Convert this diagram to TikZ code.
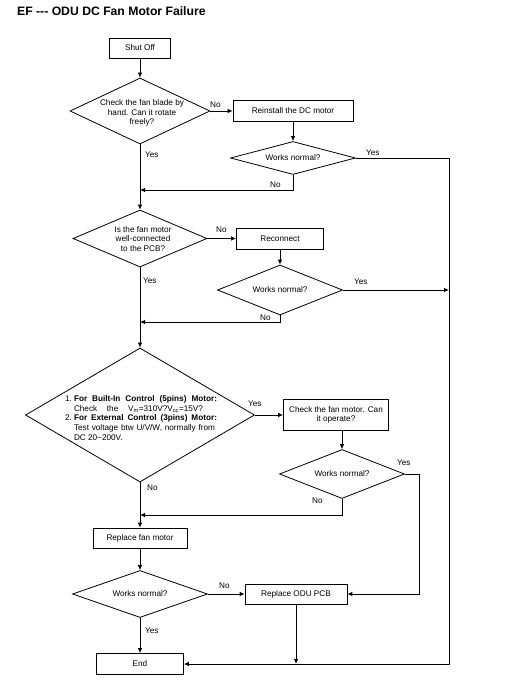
\documentclass[tikz,border=0pt]{standalone}
\usepackage{fontspec}
\setmainfont{Liberation Sans}
\usetikzlibrary{shapes.geometric,arrows.meta}
\begin{document}
\begin{tikzpicture}[x=1pt,y=-1pt,
  font=\fontsize{8.2}{9.6}\selectfont,
  every node/.style={inner sep=0pt},
  box/.style={draw,line width=0.8pt,rectangle,align=center},
  dia/.style={draw,line width=0.8pt,diamond},
  txt/.style={align=center},
  lbl/.style={anchor=base west},
  con/.style={line width=0.8pt},
  arr/.style={line width=0.8pt,-{Latex[length=5pt,width=4.5pt]}}]
\useasboundingbox (0,0) rectangle (515,690);
\node[anchor=base west,font=\fontsize{12.2}{14}\selectfont\bfseries] (title) at (17,16) {EF -{}-{}- ODU DC Fan Motor Failure};
% nodes
\node[box,minimum width=61pt,minimum height=20pt] (shut) at (140,48) {Shut Off};
\node[dia,minimum width=140pt,minimum height=66pt] (d1) at (140,111) {};
\node[txt] (t1) at (142,113) {Check the fan blade by\\hand. Can it rotate\\freely?};
\node[box,minimum width=120pt,minimum height=21pt] (reinst) at (293,111) {Reinstall the DC motor};
\node[dia,minimum width=125pt,minimum height=33pt] (d2) at (293,158) {};
\node[txt] (t2) at (293,158) {Works normal?};
\node[dia,minimum width=134pt,minimum height=57pt] (d3) at (140,238.5) {};
\node[txt] (t3) at (143,239) {Is the fan motor\\well-connected\\to the PCB?};
\node[box,minimum width=87pt,minimum height=21pt] (recon) at (280,238.5) {Reconnect};
\node[dia,minimum width=125pt,minimum height=50pt] (d4) at (280,290) {};
\node[txt] (t4) at (280,290) {Works normal?};
\node[dia,minimum width=229pt,minimum height=134pt] (d5) at (140,415) {};
\node[align=left] (t5) at (141,418) {%
\makebox[9pt][l]{1.}\makebox[143pt][s]{\textbf{For Built-In Control (5pins) Motor:}}\\
\hspace*{9pt}\makebox[129pt][s]{Check the V\textsubscript{m}=310V?V\textsubscript{cc}=15V?}\\
\makebox[9pt][l]{2.}\makebox[143pt][s]{\textbf{For External Control (3pins) Motor:}}\\
\hspace*{9pt}\makebox[141pt][s]{Test voltage btw U/V/W, normally from}\\
\hspace*{9pt}DC 20\textasciitilde200V.};
\node[box,minimum width=105pt,minimum height=31pt] (check) at (336,415) {Check the fan motor. Can\\it operate?};
\node[dia,minimum width=125pt,minimum height=49pt] (d6) at (342,474) {};
\node[txt] (t6) at (342,474) {Works normal?};
\node[box,minimum width=94pt,minimum height=20pt] (replfan) at (140,538) {Replace fan motor};
\node[dia,minimum width=135pt,minimum height=47pt] (d7) at (140,594) {};
\node[txt] (t7) at (140,594) {Works normal?};
\node[box,minimum width=102pt,minimum height=20pt] (odu) at (296,594) {Replace ODU PCB};
\node[box,minimum width=87pt,minimum height=21pt] (endb) at (140,664) {End};
% coordinates
\coordinate (c1) at (449,158);
\coordinate (c2) at (449,664);
\coordinate (c3) at (449,290);
\coordinate (m1a) at (293,190);
\coordinate (m1b) at (140,190);
\coordinate (m2a) at (280,322);
\coordinate (m2b) at (140,322);
\coordinate (m3a) at (342,515);
\coordinate (m3b) at (140,515);
\coordinate (r1) at (419,474);
\coordinate (r2) at (419,594);
\coordinate (o1) at (296,664);
% connectors
\draw[arr] (shut.south) -- (d1.north);
\draw[arr] (d1.east) -- (reinst.west);
\draw[arr] (reinst.south) -- (d2.north);
\draw[arr] (d2.east) -- (c1) -- (c2) -- (endb.east);
\draw[arr] (d2.south) -- (m1a) -- (m1b);
\draw[arr] (d1.south) -- (d3.north);
\draw[arr] (d3.east) -- (recon.west);
\draw[arr] (recon.south) -- (d4.north);
\draw[arr] (d4.east) -- (c3);
\draw[arr] (d4.south) -- (m2a) -- (m2b);
\draw[arr] (d3.south) -- (d5.north);
\draw[arr] (d5.east) -- (check.west);
\draw[arr] (d6.north |- check.south) -- (d6.north);
\draw[arr] (d6.east) -- (r1) -- (r2) -- (odu.east);
\draw[arr] (d6.south) -- (m3a) -- (m3b);
\draw[arr] (d5.south) -- (replfan.north);
\draw[arr] (replfan.south) -- (d7.north);
\draw[arr] (d7.east) -- (odu.west);
\draw[arr] (d7.south) -- (endb.north);
\draw[arr] (odu.south) -- (o1);
% labels
\node[lbl] (l1) at (210,107) {No};
\node[lbl] (l2) at (366,155) {Yes};
\node[lbl] (l3) at (270,187) {No};
\node[lbl] (l4) at (145,157) {Yes};
\node[lbl] (l5) at (216,232) {No};
\node[lbl] (l6) at (354,284) {Yes};
\node[lbl] (l7) at (260,320) {No};
\node[lbl] (l8) at (143,283) {Yes};
\node[lbl] (l9) at (248,406) {Yes};
\node[lbl] (l10) at (397,465) {Yes};
\node[lbl] (l11) at (312,503) {No};
\node[lbl] (l12) at (147,490) {No};
\node[lbl] (l13) at (219,588) {No};
\node[lbl] (l14) at (145,633) {Yes};
\end{tikzpicture}
\end{document}
